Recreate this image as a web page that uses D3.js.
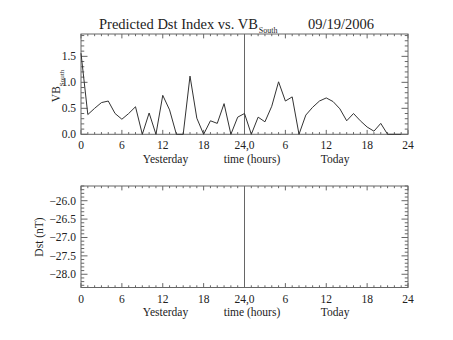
<!DOCTYPE html>
<html><head><meta charset="utf-8">
<script src="https://cdn.jsdelivr.net/npm/d3@7"></script>
<style>body{margin:0;background:#fff}svg{display:block}text{font-family:"Liberation Serif","DejaVu Serif",serif;fill:#222}</style>
</head><body><div id="c"></div>
<script>
// Hours since start of yesterday (0..48)
const hours = d3.range(0, 48);
const vbSouth = [1.56,0.38,0.50,0.61,0.64,0.40,0.29,0.40,0.53,0.00,0.41,0.00,0.75,0.47,0.00,0.00,
                 1.12,0.31,0.00,0.26,0.21,0.59,0.00,0.33,0.40,0.00,0.33,0.24,0.54,1.01,0.64,0.72,
                 0.00,0.37,0.52,0.64,0.70,0.63,0.49,0.26,0.40,0.26,0.14,0.06,0.21,0.00,0.00,0.00];
const dstValues = []; // no Dst prediction plotted
const xTickValues = [0,6,12,18,24,30,36,42,48];
const xTickLabels = ["0","6","12","18","24,0","6","12","18","24"];
const vbTicks = [0,0.5,1.0,1.5];
const dstTicks = [-26.0,-26.5,-27.0,-27.5,-28.0];
const titleMain = "Predicted Dst Index vs. VB";
const titleSub = "South";
const titleDate = "09/19/2006";

const W=453,H=340;
const svg=d3.select("#c").append("svg").attr("width",W).attr("height",H);
const L=81,R=408;
const x=d3.scaleLinear().domain([0,48]).range([L,R]);
const AX="#666";
const FS=11.5;

function panel(top,bottom,y,yTicks,fmt,minorStep){
  const g=svg.append("g");
  const h=bottom-top, w=R-L;
  const ylen=6.5, xlen=2.2;
  g.append("rect").attr("x",L).attr("y",top).attr("width",w).attr("height",h)
   .attr("fill","none").attr("stroke",AX).attr("stroke-width",1);
  const xMinor=d3.range(0,48.001,1);
  const xMajorSet=new Set(xTickValues);
  xMinor.forEach(v=>{
    const len=xMajorSet.has(v)?xlen*2:xlen;
    g.append("line").attr("x1",x(v)).attr("x2",x(v)).attr("y1",bottom).attr("y2",bottom-len).attr("stroke",AX);
    g.append("line").attr("x1",x(v)).attr("x2",x(v)).attr("y1",top).attr("y2",top+len).attr("stroke",AX);
  });
  const [d0,d1]=y.domain();
  const lo=Math.min(d0,d1),hi=Math.max(d0,d1);
  const yMinor=d3.range(Math.ceil(lo/minorStep-1e-6)*minorStep,hi+1e-9,minorStep);
  yMinor.forEach(v=>{
    const isMaj=yTicks.some(t=>Math.abs(t-v)<1e-6);
    const len=isMaj?ylen:ylen/2;
    g.append("line").attr("x1",L).attr("x2",L+len).attr("y1",y(v)).attr("y2",y(v)).attr("stroke",AX);
    g.append("line").attr("x1",R).attr("x2",R-len).attr("y1",y(v)).attr("y2",y(v)).attr("stroke",AX);
  });
  yTicks.forEach(v=>{
    g.append("text").attr("x",L-5).attr("y",y(v)+4).attr("text-anchor","end")
     .attr("font-size",FS).text(fmt(v));
  });
  xTickValues.forEach((v,i)=>{
    g.append("text").attr("x",x(v)).attr("y",bottom+15).attr("text-anchor","middle")
     .attr("font-size",FS).text(xTickLabels[i]);
  });
  const ty=bottom+28.5;
  g.append("text").attr("x",x(12.4)).attr("y",ty).attr("text-anchor","middle").attr("font-size",FS).text("Yesterday");
  g.append("text").attr("x",x(25.1)).attr("y",ty).attr("text-anchor","middle").attr("font-size",FS).text("time (hours)");
  g.append("text").attr("x",x(37.3)).attr("y",ty).attr("text-anchor","middle").attr("font-size",FS).text("Today");
  g.append("line").attr("x1",x(24)).attr("x2",x(24)).attr("y1",top).attr("y2",bottom).attr("stroke",AX);
  return g;
}

const yVB=d3.scaleLinear().domain([0,1.93]).range([134.3,34]);
const g1=panel(34,134.3,yVB,vbTicks,d3.format(".1f"),0.1);
g1.append("path").datum(hours.map((h,i)=>[h,vbSouth[i]]))
  .attr("d",d3.line().x(d=>x(d[0])).y(d=>yVB(d[1])))
  .attr("fill","none").attr("stroke","#333").attr("stroke-width",1);

const yDst=d3.scaleLinear().domain([-28.36,-25.6]).range([287.5,186]);
const g2=panel(186,287.5,yDst,dstTicks,d3.format(".1f"),0.1);
if(dstValues.length){
  g2.append("path").datum(dstValues.map((v,i)=>[hours[i],v]))
   .attr("d",d3.line().x(d=>x(d[0])).y(d=>yDst(d[1]))).attr("fill","none").attr("stroke","#333");
}

const t=svg.append("text").attr("x",99).attr("y",28.5).attr("font-size",14.5);
t.append("tspan").text(titleMain);
t.append("tspan").attr("font-size",8).attr("dy",4.5).attr("dx",1).text(titleSub);
svg.append("text").attr("x",308).attr("y",28.5).attr("font-size",14.5).text(titleDate);

const yl=svg.append("text").attr("transform","translate(60,86) rotate(-90)").attr("text-anchor","middle").attr("font-size",FS);
yl.append("tspan").text("VB");
yl.append("tspan").attr("font-size",7).attr("dy",3.5).text("South");
svg.append("text").attr("transform","translate(43,237) rotate(-90)").attr("text-anchor","middle").attr("font-size",FS).text("Dst (nT)");
</script></body></html>
